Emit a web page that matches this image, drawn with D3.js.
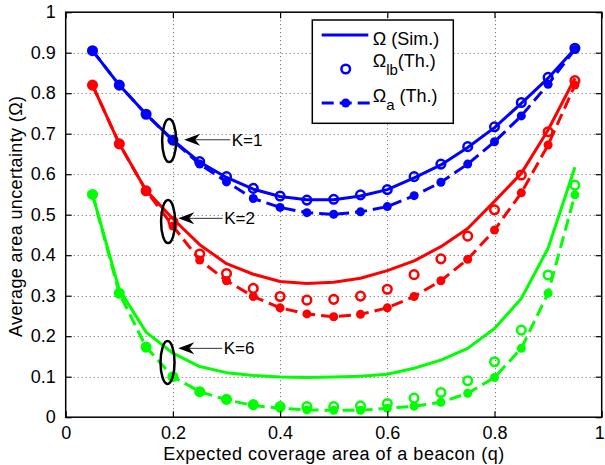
<!DOCTYPE html>
<html>
<head>
<meta charset="utf-8">
<script src="https://cdn.jsdelivr.net/npm/d3@7"></script>
<style>
  body { margin: 0; background: #fff; }
  svg { display: block; }
  text { font-family: "Liberation Sans", Arial, Helvetica, sans-serif; fill: #000; }
</style>
</head>
<body>
<svg id="chart" width="605" height="465"></svg>
<script>
// Expected coverage area of a beacon (q)
const coverage = [0.05, 0.10, 0.15, 0.20, 0.25, 0.30, 0.35, 0.40, 0.45, 0.50,
                  0.55, 0.60, 0.65, 0.70, 0.75, 0.80, 0.85, 0.90, 0.95];

// K = 1
const simK1 = [0.905, 0.820, 0.748, 0.684, 0.630, 0.592, 0.563, 0.545, 0.537, 0.537,
               0.546, 0.562, 0.591, 0.623, 0.666, 0.715, 0.775, 0.837, 0.910];
const lbK1  = [0.905, 0.820, 0.748, 0.684, 0.631, 0.594, 0.565, 0.546, 0.536, 0.538,
               0.549, 0.562, 0.594, 0.625, 0.668, 0.717, 0.777, 0.839, 0.911];
const apK1  = [0.905, 0.820, 0.748, 0.683, 0.625, 0.581, 0.540, 0.518, 0.505, 0.501,
               0.507, 0.520, 0.547, 0.580, 0.625, 0.680, 0.744, 0.822, 0.908];

// K = 2
const simK2 = [0.820, 0.675, 0.560, 0.490, 0.426, 0.379, 0.353, 0.335, 0.330, 0.333,
               0.343, 0.362, 0.386, 0.421, 0.466, 0.533, 0.602, 0.709, 0.837];
const lbK2  = [0.820, 0.675, 0.559, 0.483, 0.403, 0.355, 0.318, 0.298, 0.289, 0.291,
               0.299, 0.316, 0.352, 0.391, 0.447, 0.512, 0.598, 0.705, 0.831];
const apK2  = [0.820, 0.675, 0.559, 0.472, 0.388, 0.337, 0.298, 0.270, 0.255, 0.248,
               0.254, 0.270, 0.298, 0.337, 0.390, 0.462, 0.554, 0.672, 0.820];

// K = 6
const simK6 = [0.550, 0.315, 0.210, 0.158, 0.125, 0.110, 0.103, 0.099, 0.098, 0.099,
               0.101, 0.106, 0.121, 0.141, 0.170, 0.219, 0.293, 0.417, 0.617];
const lbK6  = [0.550, 0.306, 0.173, 0.100, 0.063, 0.044, 0.031, 0.026, 0.026, 0.026,
               0.028, 0.034, 0.047, 0.061, 0.090, 0.137, 0.215, 0.351, 0.573];
const apK6  = [0.550, 0.306, 0.173, 0.100, 0.063, 0.043, 0.029, 0.022, 0.018, 0.017,
               0.017, 0.022, 0.027, 0.037, 0.059, 0.098, 0.170, 0.306, 0.549];

const xTicks = [0, 0.2, 0.4, 0.6, 0.8, 1];
const xTickLabels = ["0", "0.2", "0.4", "0.6", "0.8", "1"];
const yTicks = [0, 0.1, 0.2, 0.3, 0.4, 0.5, 0.6, 0.7, 0.8, 0.9, 1];
const yTickLabels = ["0", "0.1", "0.2", "0.3", "0.4", "0.5", "0.6", "0.7", "0.8", "0.9", "1"];

// Callouts: ellipse centre, arrow tip and arrow tail / label start, in data units
const callouts = [
  { label: "K=1", cq: 0.193, cv: 0.683, tq: 0.221, tv: 0.685, lq: 0.307 },
  { label: "K=2", cq: 0.191, cv: 0.483, tq: 0.210, tv: 0.491, lq: 0.293 },
  { label: "K=6", cq: 0.190, cv: 0.135, tq: 0.210, tv: 0.170, lq: 0.292 }
];

const groups = [
  { color: "#0000ff", sim: simK1, lb: lbK1, ap: apK1 },
  { color: "#ff0000", sim: simK2, lb: lbK2, ap: apK2 },
  { color: "#00ff00", sim: simK6, lb: lbK6, ap: apK6 }
];

const svg = d3.select("#chart");
const plot = { left: 65.7, right: 601.7, top: 12.2, bottom: 417.2 };

const x = d3.scaleLinear().domain([0, 1]).range([plot.left, plot.right]);
const y = d3.scaleLinear().domain([0, 1]).range([plot.bottom, plot.top]);

// Dotted grid
const grid = svg.append("g").attr("stroke", "#666").attr("stroke-width", 1)
  .attr("stroke-dasharray", "1,3");
grid.selectAll("line.gx").data(xTicks.slice(1, -1)).join("line")
  .attr("x1", d => Math.round(x(d)) + 0.5).attr("x2", d => Math.round(x(d)) + 0.5)
  .attr("y1", plot.top).attr("y2", plot.bottom);
grid.selectAll("line.gy").data(yTicks.slice(1, -1)).join("line")
  .attr("y1", d => Math.round(y(d)) + 0.5).attr("y2", d => Math.round(y(d)) + 0.5)
  .attr("x1", plot.left).attr("x2", plot.right);

const line = d3.line().x((d, i) => x(coverage[i])).y(d => y(d));

const dataG = svg.append("g");
groups.forEach(g => {
  dataG.append("path").datum(g.sim)
    .attr("d", line).attr("fill", "none")
    .attr("stroke", g.color).attr("stroke-width", 3).attr("stroke-linejoin", "round");
  dataG.append("g").selectAll("circle").data(g.lb).join("circle")
    .attr("cx", (d, i) => x(coverage[i])).attr("cy", d => y(d))
    .attr("r", 4.3).attr("fill", "none")
    .attr("stroke", g.color).attr("stroke-width", 2.5);
  dataG.append("path").datum(g.ap)
    .attr("d", line).attr("fill", "none")
    .attr("stroke", g.color).attr("stroke-width", 3)
    .attr("stroke-dasharray", "12,6");
  dataG.append("g").selectAll("circle").data(g.ap).join("circle")
    .attr("cx", (d, i) => x(coverage[i])).attr("cy", d => y(d))
    .attr("r", 4.5).attr("fill", g.color);
});

// Callout ellipses and arrows
const ann = svg.append("g");
callouts.forEach(c => {
  ann.append("ellipse")
    .attr("cx", x(c.cq)).attr("cy", y(c.cv))
    .attr("rx", 7).attr("ry", 21.5)
    .attr("fill", "none").attr("stroke", "#000").attr("stroke-width", 2.5);
  const tx = x(c.tq), ty = y(c.tv), lx = x(c.lq);
  ann.append("line")
    .attr("x1", tx + 8).attr("y1", ty).attr("x2", lx).attr("y2", ty)
    .attr("stroke", "#333").attr("stroke-width", 1);
  ann.append("path")
    .attr("d", `M${tx},${ty} L${tx + 16},${ty - 6} L${tx + 11},${ty} L${tx + 16},${ty + 6} Z`)
    .attr("fill", "#000");
  ann.append("text")
    .attr("x", lx + 1.5).attr("y", ty + 6)
    .attr("font-size", 17).text(c.label);
});

// Axes frame with inward ticks on all sides
const axesG = svg.append("g");
axesG.append("rect")
  .attr("x", plot.left).attr("y", plot.top)
  .attr("width", plot.right - plot.left).attr("height", plot.bottom - plot.top)
  .attr("fill", "none").attr("stroke", "#000").attr("stroke-width", 1.5);

const tickLen = 6;
const xAxisB = d3.axisBottom(x).tickValues(xTicks).tickSize(-tickLen).tickFormat((d, i) => xTickLabels[i]).tickPadding(9);
const xAxisT = d3.axisTop(x).tickValues(xTicks).tickSize(-tickLen).tickFormat("");
const yAxisL = d3.axisLeft(y).tickValues(yTicks).tickSize(-tickLen).tickFormat((d, i) => yTickLabels[i]).tickPadding(10);
const yAxisR = d3.axisRight(y).tickValues(yTicks).tickSize(-tickLen).tickFormat("");

function styleAxis(sel) {
  sel.select(".domain").remove();
  sel.selectAll(".tick line").attr("stroke", "#000").attr("stroke-width", 1.2);
  sel.selectAll(".tick text").attr("font-size", 18).attr("fill", "#000")
    .attr("font-family", '"Liberation Sans", Arial, Helvetica, sans-serif');
}
const xBottom = axesG.append("g").attr("transform", `translate(0,${plot.bottom})`).call(xAxisB).call(styleAxis);
// keep the last label inside the canvas edge
xBottom.selectAll(".tick text").filter(d => d === 1).attr("dx", -2.5);
axesG.append("g").attr("transform", `translate(0,${plot.top})`).call(xAxisT).call(styleAxis);
axesG.append("g").attr("transform", `translate(${plot.left},0)`).call(yAxisL).call(styleAxis);
axesG.append("g").attr("transform", `translate(${plot.right},0)`).call(yAxisR).call(styleAxis);

// Axis titles
svg.append("text")
  .attr("x", 333.7).attr("y", 460)
  .attr("text-anchor", "middle").attr("font-size", 18)
  .attr("textLength", 341).attr("lengthAdjust", "spacing")
  .text("Expected coverage area of a beacon (q)");
svg.append("text")
  .attr("transform", "translate(22,216.5) rotate(-90)")
  .attr("text-anchor", "middle").attr("font-size", 18)
  .attr("textLength", 241).attr("lengthAdjust", "spacing")
  .text("Average area uncertainty (\u03A9)");

// Legend
const lg = svg.append("g");
lg.append("rect")
  .attr("x", 312.3).attr("y", 20).attr("width", 141).attr("height", 103.3)
  .attr("fill", "#fff").attr("stroke", "#000").attr("stroke-width", 1.5);
const legendColor = groups[0].color;
lg.append("line").attr("x1", 321.7).attr("x2", 368.3).attr("y1", 35).attr("y2", 35)
  .attr("stroke", legendColor).attr("stroke-width", 3);
lg.append("text").attr("x", 372.7).attr("y", 45).attr("font-size", 18).text("\u03A9 (Sim.)");

lg.append("circle").attr("cx", 345.7).attr("cy", 69).attr("r", 4.3)
  .attr("fill", "none").attr("stroke", legendColor).attr("stroke-width", 2.5);
const t2 = lg.append("text").attr("x", 372.7).attr("y", 67).attr("font-size", 18);
t2.append("tspan").text("\u03A9");
t2.append("tspan").attr("font-size", 15).attr("dy", 8).text("lb");
t2.append("tspan").attr("dy", -8).text("(Th.)");

lg.append("line").attr("x1", 321.7).attr("x2", 369.7).attr("y1", 103).attr("y2", 103)
  .attr("stroke", legendColor).attr("stroke-width", 3).attr("stroke-dasharray", "12,6");
lg.append("circle").attr("cx", 345.7).attr("cy", 103).attr("r", 4.5).attr("fill", legendColor);
const t3 = lg.append("text").attr("x", 372.7).attr("y", 101.7).attr("font-size", 18);
t3.append("tspan").text("\u03A9");
t3.append("tspan").attr("font-size", 15).attr("dy", 8).text("a");
t3.append("tspan").attr("dy", -8).text(" (Th.)");
</script>
</body>
</html>
